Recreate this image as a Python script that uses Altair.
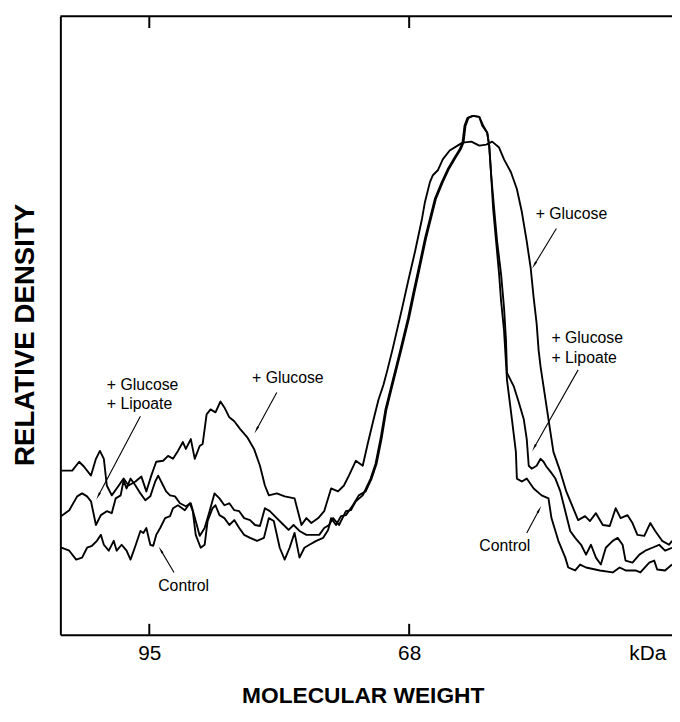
import altair as alt
import pandas as pd
import numpy as np

# ---- densitometer traces (x: scan position, y: relative density) ----
glucose_x = [0.2, 2.4, 3.8, 4.8, 6.2, 7.2, 8.0, 8.8, 9.4, 10.4, 11.4, 12.8, 13.8, 15.2, 16.4, 17.4, 18.4, 19.4, 20.8, 21.8,
             22.8, 23.8, 24.8, 25.4, 26.4, 27.2, 28.2, 28.8, 29.6, 30.4, 31.4, 32.4, 33.2, 34.2, 35.2, 36.4, 37.8, 39.2, 40.4, 41.4,
             42.2, 43.8, 45.4, 47.4, 48.8, 49.8, 50.8, 52.2, 53.4, 54.8, 56.2, 57.4, 58.4, 59.8, 61.2, 62.2, 63.4, 64.4, 65.4, 66.2,
             67.2, 69.2, 70.4, 71.8, 73.2, 73.8, 74.8, 75.4, 76.4, 77.4, 78.8, 80.4, 81.4, 83.2, 84.8, 86.2, 87.4, 88.8, 89.8, 91.2,
             92.4, 93.4, 94.4, 95.2, 95.8, 96.4, 96.8, 97.2, 98.8, 99.8, 101.2, 102.4, 103.8, 104.8, 106.2, 107.2, 108.4, 109.8, 111.2, 112.4,
             113.4, 114.8, 115.8, 116.8, 118.2, 119.4, 120.4, 121.8, 123.2, 123.8]
glucose_y = [33.2, 33.2, 35.0, 34.0, 32.2, 35.6, 37.2, 35.6, 30.2, 28.2, 29.6, 31.6, 30.2, 31.0, 32.0, 29.0, 32.2, 35.0, 35.2, 36.2,
             35.6, 37.2, 39.0, 37.6, 39.6, 35.6, 38.2, 38.6, 44.6, 45.6, 45.0, 47.2, 46.0, 44.0, 43.2, 41.6, 40.0, 37.6, 34.2, 30.2,
             28.2, 28.6, 28.0, 27.6, 22.2, 23.6, 22.6, 23.6, 25.0, 29.6, 29.0, 30.2, 32.2, 35.2, 34.2, 38.6, 43.6, 47.6, 50.6, 53.6,
             57.6, 66.2, 71.6, 77.6, 84.2, 87.6, 91.6, 93.0, 94.0, 96.2, 98.0, 99.0, 99.6, 99.8, 99.0, 99.2, 99.8, 98.6, 96.2, 93.6,
             90.2, 85.6, 79.6, 74.2, 68.2, 63.0, 57.6, 54.2, 43.6, 37.0, 33.0, 29.0, 25.6, 23.2, 24.0, 23.0, 24.6, 22.2, 22.0, 25.6,
             23.6, 24.2, 22.6, 20.2, 20.0, 22.6, 21.0, 19.0, 18.2, 19.0]

lipoate_x = [0.2, 1.8, 3.4, 4.4, 5.4, 6.2, 7.2, 8.2, 9.4, 10.4, 11.2, 12.2, 12.8, 13.4, 14.2, 15.2, 16.2, 17.2, 18.2, 19.2,
             19.8, 20.8, 21.4, 22.2, 23.2, 24.2, 25.4, 26.4, 27.4, 28.2, 29.2, 30.2, 31.2, 32.2, 33.2, 34.2, 35.2, 36.2, 37.2, 38.4,
             39.4, 40.4, 41.4, 42.4, 43.8, 45.2, 46.2, 47.2, 48.4, 49.8, 51.2, 52.4, 53.4, 54.4, 55.2, 56.4, 57.8, 58.8, 59.8, 61.2,
             62.8, 63.8, 64.8, 65.8, 66.8, 67.8, 68.8, 70.4, 71.4, 72.4, 73.8, 74.8, 75.8, 77.2, 78.4, 79.8, 80.8, 81.4, 81.8, 82.4,
             83.4, 84.8, 85.4, 86.4, 86.8, 87.2, 87.8, 88.4, 89.2, 89.8, 90.2, 90.4, 91.8, 92.8, 93.8, 94.4, 94.8, 95.4, 96.4, 97.2,
             97.8, 98.4, 99.2, 100.2, 101.2, 102.2, 103.2, 104.2, 105.4, 106.4, 107.4, 108.4, 109.4, 110.4, 111.8, 112.8, 113.8, 114.4, 115.8, 117.2,
             118.4, 119.8, 121.2, 122.4, 123.8]
lipoate_y = [24.0, 25.2, 28.0, 28.6, 28.0, 27.0, 22.2, 24.2, 25.0, 24.6, 27.6, 28.2, 31.2, 29.6, 31.6, 30.2, 28.6, 27.2, 28.0, 31.0,
             32.2, 30.2, 29.0, 28.2, 28.0, 26.6, 26.0, 26.6, 23.0, 20.0, 21.6, 25.0, 28.6, 27.6, 26.2, 26.6, 25.2, 25.0, 23.6, 23.2,
             22.2, 22.0, 25.6, 25.0, 23.6, 22.2, 21.2, 22.2, 21.0, 20.2, 20.2, 20.2, 21.6, 22.2, 23.6, 22.2, 25.0, 25.2, 27.0, 28.2,
             31.6, 34.6, 39.6, 45.6, 49.6, 53.6, 57.6, 64.2, 69.0, 73.6, 80.2, 84.2, 88.2, 91.6, 94.2, 96.6, 98.2, 99.6, 103.0, 104.6,
             105.0, 104.8, 103.0, 101.6, 99.0, 93.0, 86.2, 79.6, 73.0, 66.2, 59.6, 53.0, 50.2, 47.0, 43.6, 39.6, 34.2, 33.6, 34.2, 35.6,
             35.0, 34.0, 33.0, 31.6, 29.0, 25.0, 21.0, 19.6, 18.2, 16.2, 18.2, 15.6, 14.2, 17.6, 19.0, 19.6, 18.2, 15.0, 14.6, 16.2,
             17.0, 17.6, 18.2, 17.0, 17.6]

control_x = [0.2, 1.8, 3.2, 4.4, 5.4, 6.4, 7.4, 8.2, 8.8, 9.8, 10.8, 11.4, 12.4, 13.4, 14.2, 15.2, 16.2, 16.8, 17.4, 18.2,
             18.8, 19.4, 20.2, 21.2, 22.2, 22.8, 23.8, 25.2, 26.2, 26.8, 27.4, 28.4, 29.2, 29.8, 30.8, 31.4, 32.2, 33.2, 34.2, 35.2,
             36.2, 37.2, 38.4, 39.8, 41.2, 42.2, 43.2, 44.4, 45.4, 46.4, 47.4, 48.4, 49.4, 50.4, 51.8, 53.2, 54.2, 54.8, 55.8, 56.8,
             57.8, 59.2, 60.4, 61.8, 63.0, 64.0, 65.0, 66.0, 67.0, 68.0, 69.0, 70.6, 71.6, 72.6, 74.0, 75.0, 76.0, 77.4, 78.6, 80.0,
             81.0, 81.6, 82.0, 82.6, 83.6, 84.8, 85.6, 86.4, 86.8, 87.2, 87.6, 88.2, 88.8, 89.2, 89.8, 90.2, 90.4, 91.4, 92.2, 92.4,
             93.4, 94.4, 95.8, 97.4, 98.8, 99.4, 100.8, 102.2, 102.8, 104.2, 105.2, 106.4, 109.2, 111.8, 113.2, 114.4, 116.4, 117.4, 119.2, 120.2,
             120.8, 122.4, 123.8]
control_y = [17.6, 17.0, 15.2, 15.6, 17.6, 18.0, 19.0, 20.2, 18.2, 17.0, 19.0, 17.0, 18.2, 17.0, 15.2, 18.0, 21.0, 20.6, 21.6, 18.2,
             18.0, 20.2, 21.6, 23.6, 24.0, 25.6, 26.2, 25.2, 26.6, 25.0, 20.2, 17.6, 18.2, 23.0, 25.6, 26.2, 24.2, 23.6, 22.2, 23.2,
             21.6, 20.2, 19.6, 19.0, 19.6, 23.6, 23.0, 17.6, 15.2, 17.6, 20.6, 15.6, 17.6, 18.2, 19.0, 19.6, 21.2, 23.6, 22.2, 24.0,
             24.2, 26.2, 28.2, 29.0, 31.6, 34.6, 39.6, 45.6, 49.6, 53.6, 57.6, 64.2, 69.0, 73.6, 80.2, 84.2, 88.2, 91.6, 94.2, 96.6,
             98.2, 99.6, 103.0, 104.6, 105.0, 104.8, 103.0, 101.6, 99.0, 93.0, 86.2, 79.6, 73.0, 67.6, 61.6, 55.0, 51.6, 43.6, 37.0, 31.6,
             31.0, 31.6, 29.6, 28.2, 27.6, 23.6, 19.0, 15.6, 13.6, 13.0, 14.2, 13.6, 13.0, 12.6, 13.6, 13.0, 13.0, 12.6, 14.6, 15.0,
             13.2, 13.0, 14.2]

# ---- axis ticks / labels ----
tick_pos = [18.0, 70.6]
label_pos = [18.0, 70.6, 118.8]
label_text = ["95", "68", "kDa"]

# ---- annotations ----
note_text = ["+ Glucose", "+ Lipoate", "+ Glucose", "Control", "+ Glucose", "+ Glucose", "+ Lipoate", "Control"]
note_x = [9.4, 9.4, 38.8, 19.8, 96.2, 99.4, 99.4, 84.8]
note_y = [50.6, 46.6, 52.0, 9.8, 85.2, 60.0, 56.0, 18.0]

arrow_x1 = [16.2, 43.8, 23.0, 100.4, 104.8, 94.4]
arrow_y1 = [44.2, 49.0, 12.6, 82.2, 53.6, 20.6]
arrow_x2 = [7.2, 39.2, 19.8, 95.4, 95.4, 97.4]
arrow_y2 = [27.2, 40.6, 18.0, 74.0, 37.0, 26.2]

XMAX, YMAX = 123.8, 125.2
W, H = 619, 626
FONT = "Liberation Sans"

rows = []
for name, xs_, ys_ in [("+ Glucose", glucose_x, glucose_y),
                       ("+ Glucose + Lipoate", lipoate_x, lipoate_y),
                       ("Control", control_x, control_y)]:
    for i, (a, b) in enumerate(zip(xs_, ys_)):
        rows.append({"series": name, "x": a, "y": b, "i": i})
traces = pd.DataFrame(rows)

xs = alt.Scale(domain=[0, XMAX], nice=False, zero=False)
ys = alt.Scale(domain=[0, YMAX], nice=False, zero=False)

lines = alt.Chart(traces).mark_line(color="black", strokeWidth=1.9, strokeJoin="round").encode(
    x=alt.X("x:Q", scale=xs,
            axis=alt.Axis(values=label_pos,
                          labelExpr="datum.value < 30 ? '95' : (datum.value < 100 ? '68' : 'kDa')",
                          ticks=False, tickSize=0, grid=False, domain=True, domainColor="black", domainWidth=2,
                          labelFont=FONT, labelFontSize=21, labelColor="black", labelPadding=8,
                          labelBaseline="top", labelFlush=False,
                          title="MOLECULAR WEIGHT", titleFont=FONT, titleFontSize=23, titleFontWeight="bold",
                          titleColor="black", titleX=306, titleY=69, titleBaseline="alphabetic", titleAlign="center")),
    y=alt.Y("y:Q", scale=ys,
            axis=alt.Axis(ticks=False, tickSize=0, labels=False, grid=False, domain=True, domainColor="black",
                          domainWidth=2, title="RELATIVE DENSITY", titleFont=FONT, titleFontSize=28,
                          titleFontWeight="bold", titleColor="black", titleAngle=270, titleX=-27, titleY=322,
                          titleBaseline="alphabetic", titleAlign="center")),
    detail="series:N",
    order="i:Q",
)

# arrows
arr = pd.DataFrame({"x1": arrow_x1, "y1": arrow_y1, "x2": arrow_x2, "y2": arrow_y2})
dx = arr["x2"] - arr["x1"]
dy = arr["y2"] - arr["y1"]
length = np.hypot(dx, dy)
arr["angle"] = (np.degrees(np.arctan2(dx, dy)) + 360) % 360
arr["hx"] = arr["x2"] - dx / length * 1.2
arr["hy"] = arr["y2"] - dy / length * 1.2

shafts = alt.Chart(arr).mark_rule(color="black", strokeWidth=1.1).encode(
    x=alt.X("x1:Q", scale=xs), y=alt.Y("y1:Q", scale=ys), x2="hx:Q", y2="hy:Q")
heads = alt.Chart(arr).mark_point(shape="wedge", filled=True, color="black", opacity=1, size=80).encode(
    x=alt.X("hx:Q", scale=xs), y=alt.Y("hy:Q", scale=ys), angle=alt.Angle("angle:Q", scale=None))

notes = alt.Chart(pd.DataFrame({"t": note_text, "x": note_x, "y": note_y})).mark_text(
    align="left", baseline="middle", font=FONT, fontSize=16, color="black").encode(
    x=alt.X("x:Q", scale=xs), y=alt.Y("y:Q", scale=ys), text="t:N")

ticks_df = pd.DataFrame({"x": tick_pos})
top_ticks = alt.Chart(ticks_df).mark_rule(color="black", strokeWidth=2).encode(
    x=alt.X("x:Q", scale=xs), y=alt.value(0), y2=alt.value(12))
bottom_ticks = alt.Chart(ticks_df).mark_rule(color="black", strokeWidth=2).encode(
    x=alt.X("x:Q", scale=xs), y=alt.value(H - 11), y2=alt.value(H))
top_line = alt.Chart(pd.DataFrame({"a": [0]})).mark_rule(color="black", strokeWidth=2).encode(
    x=alt.value(0), x2=alt.value(W), y=alt.value(0))

chart = alt.layer(lines, shafts, heads, notes, top_ticks, bottom_ticks, top_line).properties(
    width=W, height=H, autosize="none",
    padding={"left": 53, "top": 4, "right": 0, "bottom": 74},
    background="white",
).configure_view(stroke=None)

chart.save("out.html", embed_options={"renderer": "svg", "actions": False})
